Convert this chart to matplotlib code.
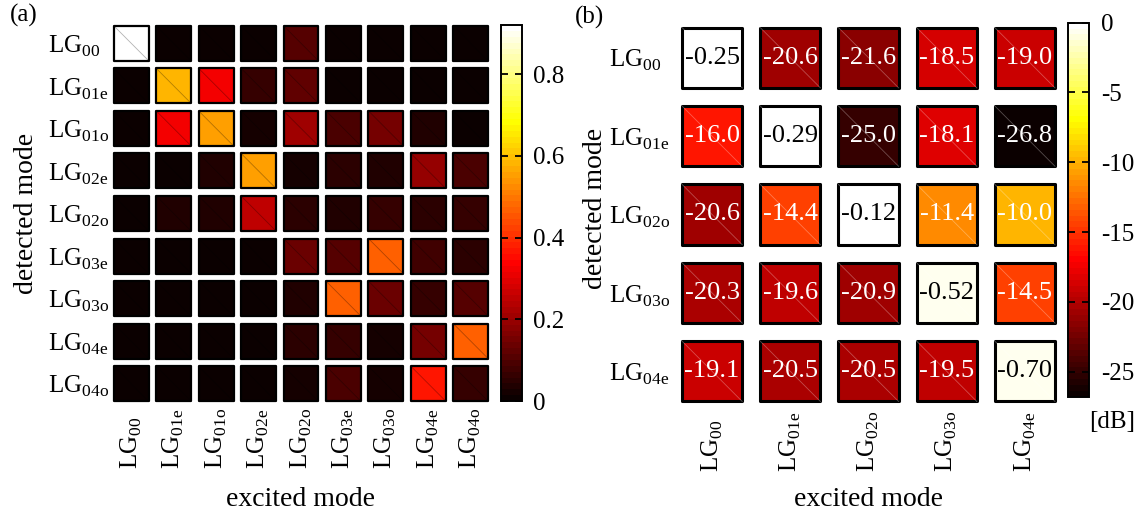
import numpy as np
import matplotlib
matplotlib.use("Agg")
import matplotlib.pyplot as plt
from matplotlib.patches import Rectangle
from matplotlib.colors import Normalize, ListedColormap
from matplotlib.cm import ScalarMappable

plt.rcParams['font.family'] = ['Liberation Serif', 'DejaVu Serif']
plt.rcParams['mathtext.fontset'] = 'custom'
plt.rcParams['mathtext.rm'] = 'Liberation Serif'
plt.rcParams['axes.unicode_minus'] = False

# (a) Kopplungsmatrix, 9 Moden
modes_a = ['00', '01e', '01o', '02e', '02o', '03e', '03o', '04e', '04o']
coupling_a = np.array([
    [0.92, 0.005, 0.005, 0.005, 0.11, 0.005, 0.005, 0.005, 0.005],
    [0.005, 0.58, 0.32, 0.06, 0.12, 0.005, 0.005, 0.005, 0.005],
    [0.005, 0.32, 0.56, 0.02, 0.21, 0.09, 0.15, 0.03, 0.005],
    [0.005, 0.005, 0.03, 0.56, 0.015, 0.05, 0.03, 0.20, 0.10],
    [0.005, 0.03, 0.03, 0.25, 0.05, 0.035, 0.07, 0.05, 0.06],
    [0.005, 0.005, 0.005, 0.005, 0.13, 0.11, 0.47, 0.085, 0.05],
    [0.005, 0.005, 0.005, 0.005, 0.04, 0.47, 0.13, 0.065, 0.105],
    [0.005, 0.005, 0.005, 0.005, 0.05, 0.06, 0.025, 0.15, 0.46],
    [0.005, 0.005, 0.005, 0.005, 0.015, 0.09, 0.025, 0.36, 0.065],
])
cbar_ticks_a = [0, 0.2, 0.4, 0.6, 0.8]
cbar_labels_a = ['0', '0.2', '0.4', '0.6', '0.8']

# (b) Kopplung in dB, 5 Moden
modes_b = ['00', '01e', '02o', '03o', '04e']
coupling_b = np.array([
    [-0.25, -20.6, -21.6, -18.5, -19.0],
    [-16.0, -0.29, -25.0, -18.1, -26.8],
    [-20.6, -14.4, -0.12, -11.4, -10.0],
    [-20.3, -19.6, -20.9, -0.52, -14.5],
    [-19.1, -20.5, -20.5, -19.5, -0.70],
])
cbar_ticks_b = [0, -5, -10, -15, -20, -25]

W, H = 1148, 521
fig = plt.figure(figsize=(W / 100, H / 100), dpi=100)


def px_axes(l, t, r, b):
    return fig.add_axes([l / W, 1 - b / H, (r - l) / W, (b - t) / H])


def lg(s):
    return r'$\mathrm{LG}_{\mathrm{' + s + '}}$'


# MATLAB-artige "hot" Farbtabelle mit 64 Stufen
m = 64
n = 3 * m // 8
r = np.concatenate([np.arange(1, n + 1) / n, np.ones(m - n)])
g = np.concatenate([np.zeros(n), np.arange(1, n + 1) / n, np.ones(m - 2 * n)])
b = np.concatenate([np.zeros(2 * n), np.arange(1, m - 2 * n + 1) / (m - 2 * n)])
cmap = ListedColormap(np.column_stack([r, g, b]))


def draw_cells(ax, data, norm, size, lw, diag_col, annotate=False):
    n = data.shape[0]
    for i in range(n):
        for j in range(n):
            v = data[i, j]
            ax.add_patch(Rectangle((j - size / 2, i - size / 2), size, size,
                                   facecolor=cmap(norm(v)), edgecolor='black',
                                   lw=lw, joinstyle='round'))
            ax.plot([j - size / 2, j + size / 2], [i - size / 2, i + size / 2],
                    color=diag_col, lw=0.6)
            if annotate:
                txt = f'{v:.2f}' if abs(v) < 1 else f'{v:.1f}'
                col = 'black' if v > -5 else 'white'
                ax.text(j, i, txt, ha='center', va='center', color=col, fontsize=19)
    ax.set_xlim(-0.5, n - 0.5)
    ax.set_ylim(n - 0.5, -0.5)
    for sp in ax.spines.values():
        sp.set_visible(False)


# ---- Panel (a)
ax1 = px_axes(110, 22, 492, 405)
norm_a = Normalize(0, 0.92)
draw_cells(ax1, coupling_a, norm_a, 0.82, 1.6, (0, 0, 0, 0.3))
ax1.set_xticks(range(9), [lg(m) for m in modes_a], rotation=90,
               rotation_mode='anchor', ha='left', va='center')
ax1.set_yticks(range(9), [lg(m) for m in modes_a], ha='left')
ax1.tick_params(axis='both', length=0, labelsize=18)
ax1.tick_params(axis='x', pad=46)
ax1.tick_params(axis='y', pad=45)
fig.text(27 / W, 1 - 213 / H, 'detected mode', rotation=90, ha='center', va='center', fontsize=20)
fig.text(301 / W, 1 - 500 / H, 'excited mode', ha='center', va='center', fontsize=20)
fig.text(24 / W, 1 - 15 / H, '(a)', ha='center', va='center', fontsize=18)

cax1 = px_axes(501, 25, 522, 401)
cb1 = fig.colorbar(ScalarMappable(norm_a, cmap), cax=cax1)
cb1.set_ticks(cbar_ticks_a, labels=cbar_labels_a)
cb1.outline.set_linewidth(1.4)
cax1.tick_params(direction='in', length=5, width=1.3, left=True, right=True,
                 labelsize=18, pad=8)

# ---- Panel (b)
ax2 = px_axes(673, 18.5, 1064, 410.5)
norm_b = Normalize(-26.8, 0)
draw_cells(ax2, coupling_b, norm_b, 0.77, 2.2, (1, 1, 1, 0.3), annotate=True)
ax2.set_xticks(range(5), [lg(m) for m in modes_b], rotation=90,
               rotation_mode='anchor', ha='left', va='center')
ax2.set_yticks(range(5), [lg(m) for m in modes_b], ha='left')
ax2.tick_params(axis='both', length=0, labelsize=18)
ax2.tick_params(axis='x', pad=44)
ax2.tick_params(axis='y', pad=46)
fig.text(596 / W, 1 - 208 / H, 'detected mode', rotation=90, ha='center', va='center', fontsize=20)
fig.text(868 / W, 1 - 500 / H, 'excited mode', ha='center', va='center', fontsize=20)
fig.text(590 / W, 1 - 17 / H, '(b)', ha='center', va='center', fontsize=18)

cax2 = px_axes(1068, 22.7, 1089, 396.7)
cb2 = fig.colorbar(ScalarMappable(norm_b, cmap), cax=cax2)
cb2.set_ticks(cbar_ticks_b)
cb2.outline.set_linewidth(1.4)
cax2.tick_params(direction='in', length=5, width=1.3, left=True, right=True,
                 labelsize=18, pad=9)
fig.text(1112 / W, 1 - 422 / H, '[dB]', ha='center', va='center', fontsize=18)

fig.savefig('out.png', dpi=100)
